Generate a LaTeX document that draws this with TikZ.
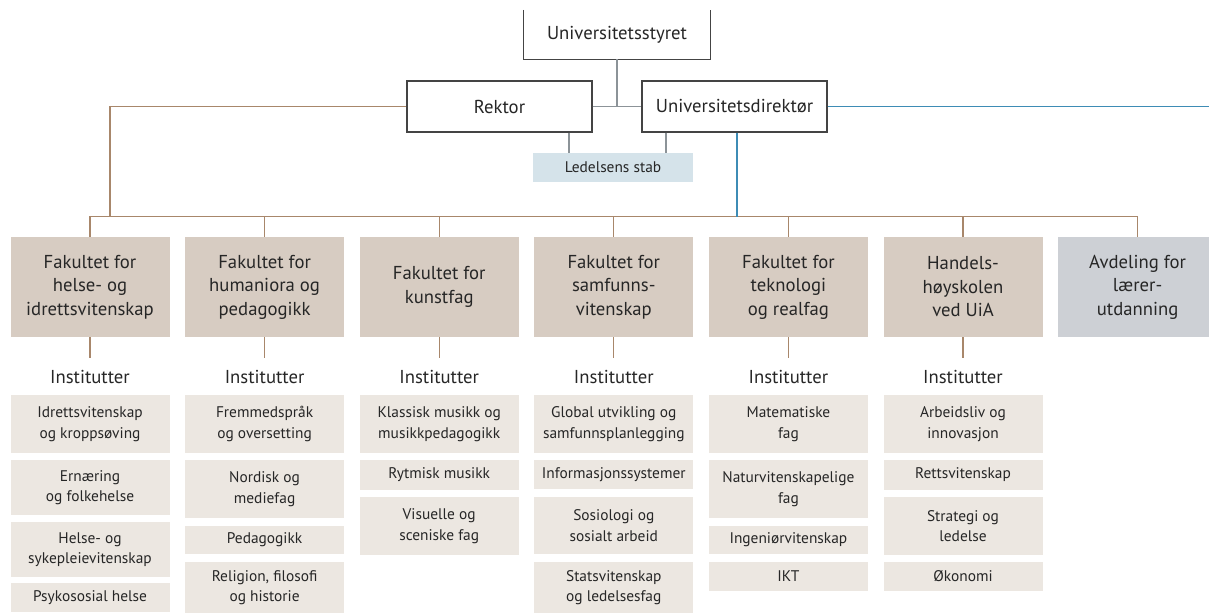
\documentclass[tikz,border=0pt]{standalone}
\usepackage{fontspec}
\setmainfont{PT Sans}
\definecolor{facfill}{HTML}{D7CCC2}
\definecolor{subfill}{HTML}{ECE7E1}
\definecolor{avdfill}{HTML}{CDD0D5}
\definecolor{stabfill}{HTML}{D5E3EA}
\definecolor{brownline}{HTML}{A8876B}
\definecolor{blueline}{HTML}{3E8CB5}
\definecolor{grayline}{HTML}{8C9398}
\definecolor{txt}{HTML}{262626}
\definecolor{boxline}{HTML}{444444}
\newcommand\subbox[5]{\node[sub, minimum height={#4-#3}] (#1) at (#2,{(#3+#4)/2}) {#5};}
\begin{document}
\begin{tikzpicture}[x=1pt,y=-1pt,
  big/.style={font=\fontsize{18.7}{23.5}\selectfont, text=txt, align=center, inner sep=0pt},
  topbox/.style={big, draw=boxline, line width=1.2pt, fill=white, minimum width=185, minimum height=51},
  fac/.style={big, fill=facfill, minimum width=159, minimum height=100},
  avd/.style={fac, fill=avdfill},
  sub/.style={font=\fontsize{15.4}{20.5}\selectfont, text=txt, align=center, inner sep=0pt, fill=subfill, minimum width=159},
  inst/.style={big},
  bl/.style={draw=brownline, line width=1.3pt},
  gl/.style={draw=grayline, line width=1.3pt},
  bul/.style={draw=blueline, line width=1.3pt}]
\useasboundingbox (0,0) rectangle (1209,613);
\clip (0,0) rectangle (1209,613);
% top
\node[big, minimum width=186, minimum height=49] (sty) at (617,34.5) {Universitetsstyret};
\draw[draw=boxline, line width=1.2pt] (sty.north west) -- (sty.south west) -- (sty.south east) -- (sty.north east);
\node[topbox] (rek) at (499.5,106.5) {Rektor};
\node[topbox] (dir) at (734.5,106.5) {Universitetsdirektør};
\node[font=\fontsize{15.4}{18}\selectfont, text=txt, fill=stabfill, minimum width=160, minimum height=29, inner sep=0pt] (stab) at (613,167.5) {Ledelsens stab};
\draw[gl] (sty.south) -- (sty.south |- rek.east);
\draw[gl] (rek.east) -- (dir.west);
\draw[gl] ([xshift=69.5]rek.south) -- ([xshift=69.5]rek.south |- stab.north);
\draw[gl] ([xshift=-68.5]dir.south) -- ([xshift=-68.5]dir.south |- stab.north);
% faculties
\node[fac] (f1) at (90,287) {Fakultet for\\helse- og\\idrettsvitenskap};
\node[fac] (f2) at (264.6,287) {Fakultet for\\humaniora og\\pedagogikk};
\node[fac] (f3) at (439.2,287) {Fakultet for\\kunstfag};
\node[fac] (f4) at (613.8,287) {Fakultet for\\samfunns-\\vitenskap};
\node[fac] (f5) at (788.4,287) {Fakultet for\\teknologi\\og realfag};
\node[fac] (f6) at (963,287) {Handels-\\høyskolen\\ved UiA};
\node[avd] (f7) at (1137.6,287) {Avdeling for\\lærer-\\utdanning};
% bus
\coordinate (rk) at (110,217);
\draw[bl] (rek.west) -| (rk);
\draw[bl] (f1.north) -- ++(0,-20) -| (f7.north);
\foreach \i in {2,...,6} { \draw[bl] (f\i.north) -- ++(0,-20); }
\coordinate (edgeR) at (1209,106.5);
\draw[bul] (dir.east) -- (edgeR);
\draw[bul] ([xshift=2.5]dir.south) -- ([xshift=2.5]dir.south |- rk);
% institutter
\foreach \i in {1,...,6} {
  \draw[bl] (f\i.south) -- ++(0,21);
  \node[inst] (in\i) at ([yshift=-40]f\i.south) {Institutter};
}
% sub-boxes
\subbox{s11}{90}{395}{453}{Idrettsvitenskap\\og kroppsøving}
\subbox{s12}{90}{460}{515}{Ernæring\\og folkehelse}
\subbox{s13}{90}{522}{577}{Helse- og\\sykepleievitenskap}
\subbox{s14}{90}{583}{612}{Psykososial helse}
\subbox{s21}{264.6}{395}{453}{Fremmedspråk\\og oversetting}
\subbox{s22}{264.6}{460}{518}{Nordisk og\\mediefag}
\subbox{s23}{264.6}{526}{554}{Pedagogikk}
\subbox{s24}{264.6}{562}{613}{Religion, filosofi\\og historie}
\subbox{s31}{439.2}{395}{453}{Klassisk musikk og\\musikkpedagogikk}
\subbox{s32}{439.2}{460}{490}{Rytmisk musikk}
\subbox{s33}{439.2}{497}{555}{Visuelle og\\sceniske fag}
\subbox{s41}{613.8}{395}{453}{Global utvikling og\\samfunnsplanlegging}
\subbox{s42}{613.8}{460}{489}{Informasjonssystemer}
\subbox{s43}{613.8}{497}{554}{Sosiologi og\\sosialt arbeid}
\subbox{s44}{613.8}{562}{613}{Statsvitenskap\\og ledelsesfag}
\subbox{s51}{788.4}{395}{453}{Matematiske\\fag}
\subbox{s52}{788.4}{460}{518}{Naturvitenskapelige\\fag}
\subbox{s53}{788.4}{526}{554}{Ingeniørvitenskap}
\subbox{s54}{788.4}{562}{591}{IKT}
\subbox{s61}{963}{395}{453}{Arbeidsliv og\\innovasjon}
\subbox{s62}{963}{460}{490}{Rettsvitenskap}
\subbox{s63}{963}{497}{555}{Strategi og\\ledelse}
\subbox{s64}{963}{562}{591}{Økonomi}
\end{tikzpicture}
\end{document}
